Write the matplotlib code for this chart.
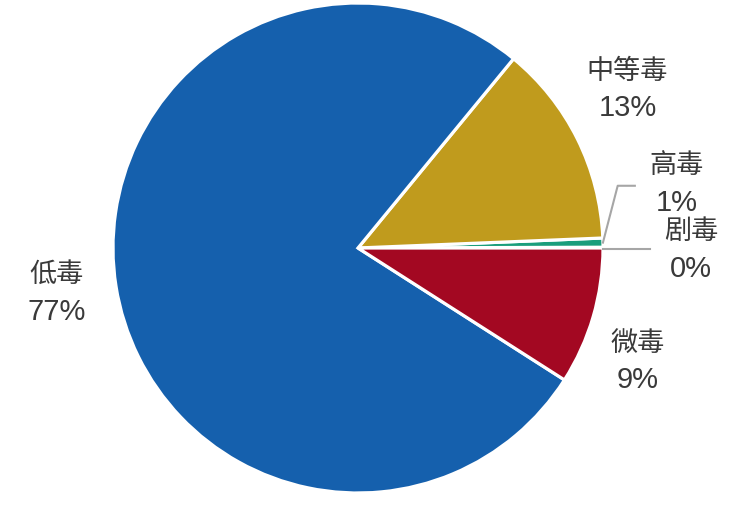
import numpy as np
import matplotlib.pyplot as plt

# toxicity classes, counter-clockwise from 3 o'clock
categories = ['剧毒', '高毒', '中等毒', '低毒', '微毒']
shares = [0.05, 0.6, 13.4, 76.9, 9.05]
pct_labels = ['0%', '1%', '13%', '77%', '9%']
colors = ['#1A9E7C', '#1A9E7C', '#C09B1D', '#1560AD', '#A30822']

# label centres in axes data units (pie radius = 1)
label_pos = [(1.36, -0.01), (1.30, 0.26), (1.10, 0.645), (-1.23, -0.185), (1.14, -0.465)]

fig = plt.figure(figsize=(7.42, 5.09), dpi=100)
ax = fig.add_axes([113 / 742, 16 / 509, 490 / 742, 490 / 509])

wedges, _ = ax.pie(shares, colors=colors, startangle=0, counterclock=True,
                   radius=1.0, wedgeprops=dict(edgecolor='white', linewidth=2.3))
ax.set_xlim(-1, 1)
ax.set_ylim(-1, 1)
ax.set_aspect('equal')
ax.axis('off')

fam = ['Liberation Sans', 'Noto Sans CJK SC']
for name, pct, (x, y) in zip(categories, pct_labels, label_pos):
    ax.text(x, y + 0.075, name, ha='center', va='center', fontsize=19.5,
            family=fam, color='#3A3A3A', clip_on=False)
    ax.text(x, y - 0.075, pct, ha='center', va='center', fontsize=21,
            family=fam, color='#3A3A3A', clip_on=False)

# leader lines for the two thin wedges
line_col = '#A6A6A6'
for w, pts in zip(wedges[:2], [[(1.19, -0.004)], [(1.06, 0.254), (1.13, 0.254)]]):
    mid = np.deg2rad((w.theta1 + w.theta2) / 2)
    xs = [np.cos(mid)] + [p[0] for p in pts]
    ys = [np.sin(mid)] + [p[1] for p in pts]
    if len(pts) == 1:
        ys[0] = pts[0][1]
    ax.plot(xs, ys, color=line_col, lw=1.5, clip_on=False)

fig.savefig('out.png', dpi=100)
